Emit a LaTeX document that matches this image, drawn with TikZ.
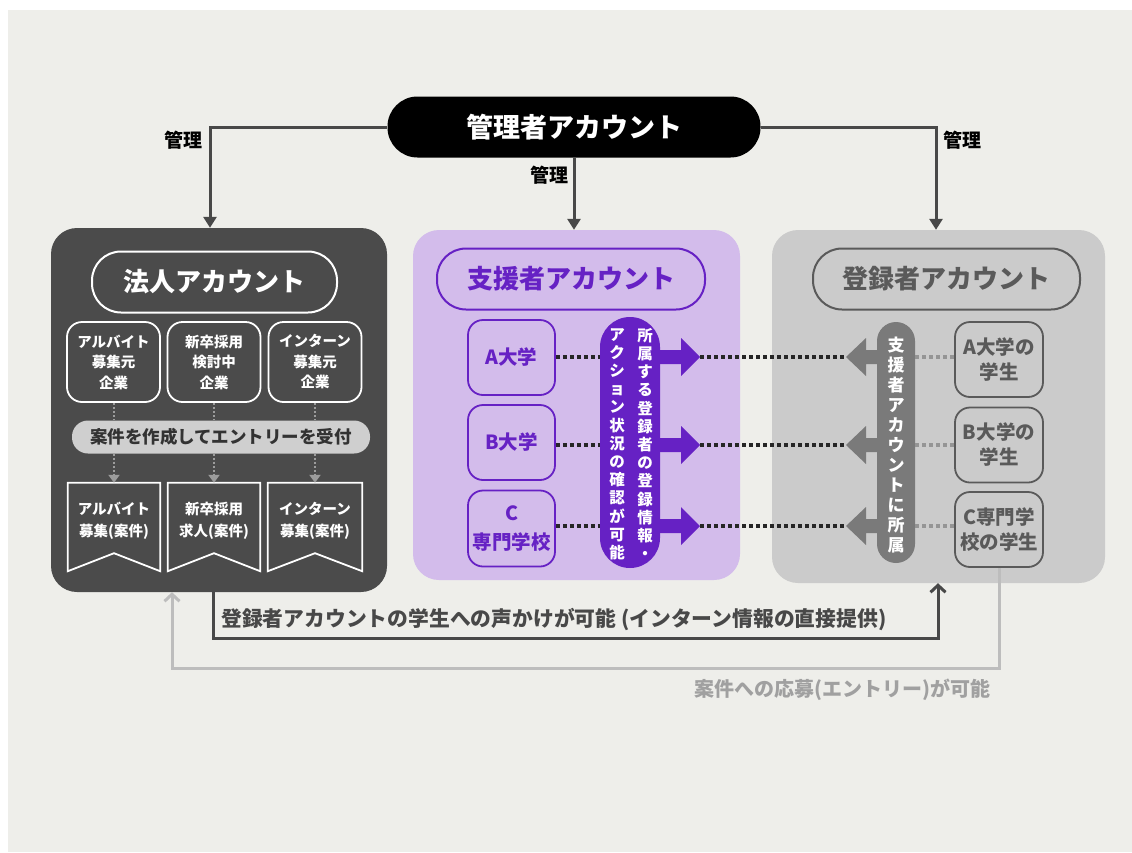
\documentclass[tikz,border=0pt]{standalone}
\usepackage{fontspec}
\setmainfont{Noto Sans CJK JP}
\usetikzlibrary{arrows.meta,calc}
\definecolor{bgc}{HTML}{EEEEEA}
\definecolor{darkbox}{HTML}{4B4B4B}
\definecolor{lineDark}{HTML}{484848}
\definecolor{purpbox}{HTML}{D3BCEB}
\definecolor{purp}{HTML}{6621C4}
\definecolor{greybox}{HTML}{CBCBCB}
\definecolor{greyline}{HTML}{5A5A5A}
\definecolor{greypill}{HTML}{7A7A7A}
\definecolor{lightpill}{HTML}{CFCFCF}
\definecolor{dotgrey}{HTML}{9C9C9C}
\definecolor{lightline}{HTML}{BDBDBD}
\definecolor{lightlabel}{HTML}{A0A0A0}
\begin{document}
\begin{tikzpicture}[x=1pt,y=-1pt,
  panel/.style={rounded corners=26pt, inner sep=0pt},
  titlepill/.style={draw, line width=2pt, rounded corners=29pt, inner sep=0pt, minimum height=61pt, font=\bfseries\fontsize{26}{30}\selectfont},
  sbox/.style={draw, line width=1.8pt, rounded corners=15pt, inner sep=0pt, align=center},
  mgarrow/.style={line width=3pt, draw=lineDark, line join=miter, -{Triangle[width=13pt,length=11pt]}},
  mglabel/.style={font=\bfseries\fontsize{19}{22}\selectfont, text=black},
  lbdot/.style={draw=dotgrey, line width=2pt, dash pattern=on 2pt off 2pt},
  bkdot/.style={draw=black!85, line width=4pt, dash pattern=on 4pt off 3pt},
  gydot/.style={draw=greypill!80, line width=3.5pt, dash pattern=on 4pt off 3pt},
  bannerbox/.style={minimum width=92pt, minimum height=88pt, inner sep=0pt},
  bantext/.style={text=white, align=center, inner sep=0pt, font=\bfseries\fontsize{14.5}{22}\selectfont},
  vtext/.style={text=white, align=center, inner sep=0pt},
  barb/.style={line width=3pt, line join=miter, -{Straight Barb[length=7pt,width=15pt]}},
]
\useasboundingbox (0,0) rectangle (1132,852);
\fill[white] (0,0) rectangle (1132,852);
\fill[bgc] (8,10) rectangle (1132,852);

% admin
\node[fill=black, rounded corners=30pt, minimum width=373pt, minimum height=61pt, inner sep=0pt, text=white, font=\bfseries\fontsize{27}{30}\selectfont] (admin) at (574,127) {管理者アカウント};

% panels
\node[panel, fill=darkbox, minimum width=336pt, minimum height=364pt] (hojin) at (219,410) {};
\node[panel, fill=purpbox, minimum width=327pt, minimum height=350pt] (shien) at (576.5,405) {};
\node[panel, fill=greybox, minimum width=333pt, minimum height=353pt] (toroku) at (938.5,406.5) {};

% titles
\node[titlepill, draw=white, text=white, minimum width=245pt] (hojinT) at (214.5,282) {法人アカウント};
\node[titlepill, draw=purp, text=purp, minimum width=268pt] (shienT) at (571,279) {支援者アカウント};
\node[titlepill, draw=greyline, text=greyline, minimum width=267pt] (torokuT) at (946.5,279) {登録者アカウント};

% left panel content
\begin{scope}[every node/.append style={font=\bfseries\fontsize{14.5}{20.5}\selectfont}]
\node[sbox, draw=white, text=white, minimum width=93pt, minimum height=80pt] (c1) at (113.5,362) {アルバイト\\募集元\\企業};
\node[sbox, draw=white, text=white, minimum width=93pt, minimum height=80pt] (c2) at (214,362) {新卒採用\\検討中\\企業};
\node[sbox, draw=white, text=white, minimum width=93pt, minimum height=80pt] (c3) at (315,362) {インターン\\募集元\\企業};
\end{scope}
\node[fill=lightpill, rounded corners=16pt, minimum width=298pt, minimum height=33pt, inner sep=0pt, text=black!80, font=\bfseries\fontsize{17.5}{20}\selectfont] (entry) at (221,437) {案件を作成してエントリーを受付};

\node[bannerbox] (b1) at (114,527) {};
\node[bannerbox] (b2) at (214,527) {};
\node[bannerbox, minimum width=94pt] (b3) at (315,527) {};
\foreach \b in {b1,b2,b3}
  \draw[white, line width=1.8pt, line join=miter] (\b.north west) -- (\b.north east) -- (\b.south east) -- ($(\b.south)+(0,-18)$) -- (\b.south west) -- cycle;
\node[bantext] (b1t) at (114,521) {アルバイト\\募集(案件)};
\node[bantext] (b2t) at (214,521) {新卒採用\\求人(案件)};
\node[bantext] (b3t) at (315,521) {インターン\\募集(案件)};

\foreach \i in {1,2,3} {
  \draw[lbdot] (c\i.south) -- (c\i.south |- entry.north);
  \draw[lbdot, -{Triangle[width=11pt,length=8pt]}] (b\i.north |- entry.south) -- (b\i.north);
}

% middle panel content
\begin{scope}[every node/.append style={font=\bfseries\fontsize{19.5}{29}\selectfont}]
\node[sbox, draw=purp, text=purp, minimum width=87pt, minimum height=75pt] (mA) at (511.5,357.5) {A大学};
\node[sbox, draw=purp, text=purp, minimum width=87pt, minimum height=75pt] (mB) at (511.5,442.5) {B大学};
\node[sbox, draw=purp, text=purp, minimum width=87pt, minimum height=76pt] (mC) at (511.5,528.5) {C\\専門学校};
\end{scope}

\coordinate (r1) at (0,357);
\coordinate (r2) at (0,445);
\coordinate (r3) at (0,526);

\foreach \y [count=\i] in {357,445,526} {
  \fill[purp] (650,\y-7) -- (681,\y-7) -- (681,\y-19) -- (700,\y) -- (681,\y+19) -- (681,\y+7) -- (650,\y+7) -- cycle;
  \coordinate (pt\i) at (700,\y);
  \fill[greypill] (885,\y-7) -- (866,\y-7) -- (866,\y-19) -- (846,\y) -- (866,\y+19) -- (866,\y+7) -- (885,\y+7) -- cycle;
  \coordinate (gt\i) at (846,\y);
}

\node[fill=purp, rounded corners=30pt, minimum width=60pt, minimum height=251pt, inner sep=0pt] (ppill) at (630,442.5) {};
\node[vtext, font=\bfseries\fontsize{15.5}{18.2}\selectfont] (pv1) at (645,444) {所\\属\\す\\る\\登\\録\\者\\の\\登\\録\\情\\報\\・};
\node[vtext, font=\bfseries\fontsize{15.5}{18.2}\selectfont] (pv2) at (617,444) {ア\\ク\\シ\\ョ\\ン\\状\\況\\の\\確\\認\\が\\可\\能};

% right panel content
\node[fill=greypill, rounded corners=19pt, minimum width=38pt, minimum height=241pt, inner sep=0pt] (gpill) at (896,442.5) {};
\node[vtext, font=\bfseries\fontsize{17}{20}\selectfont] (gv) at (896,445) {支\\援\\者\\ア\\カ\\ウ\\ン\\ト\\に\\所\\属};

\begin{scope}[every node/.append style={font=\bfseries\fontsize{19.5}{25}\selectfont}]
\node[sbox, draw=greyline, text=greyline, minimum width=88pt, minimum height=75pt] (rA) at (999,359.5) {A大学の\\学生};
\node[sbox, draw=greyline, text=greyline, minimum width=88pt, minimum height=75pt] (rB) at (999,445) {B大学の\\学生};
\node[sbox, draw=greyline, text=greyline, minimum width=88pt, minimum height=75pt] (rC) at (999,529.5) {C専門学\\校の学生};
\end{scope}

% dotted row connectors
\foreach \m/\r/\i in {mA/rA/1,mB/rB/2,mC/rC/3} {
  \draw[bkdot] (\m.east |- r\i) -- (ppill.west |- r\i);
  \draw[bkdot] (pt\i) -- (gt\i);
  \draw[gydot] (gpill.east |- r\i) -- (\r.west |- r\i);
}

% top management arrows
\coordinate (tl) at (210,127);
\coordinate (tr) at (936,127);
\draw[mgarrow] (admin.west) -- (tl) -- (tl |- hojin.north);
\draw[mgarrow] (admin.south) -- (admin.south |- shien.north);
\draw[mgarrow] (admin.east) -- (tr) -- (tr |- toroku.north);
\node[mglabel] (mg1) at (183,140) {管理};
\node[mglabel] (mg2) at (549,175) {管理};
\node[mglabel] (mg3) at (962,140) {管理};

% bottom connectors
\coordinate (l1) at (172,668);
\draw[barb, draw=lightline] (rC.south) |- (l1) -- (l1 |- hojin.south);
\node[anchor=east, inner sep=0pt, font=\bfseries\fontsize{20}{24}\selectfont, text=lightlabel] (llab) at (991,690) {案件への応募(エントリー)が可能};

\coordinate (d1) at (213,638);
\coordinate (d2) at (938,638);
\draw[barb, draw=lineDark] (d1 |- hojin.south) -- (d1) -- (d2) -- (d2 |- toroku.south);
\node[anchor=west, inner sep=0pt, font=\bfseries\fontsize{20.8}{24}\selectfont, text=lineDark] (dlab) at (221,620) {登録者アカウントの学生への声かけが可能 (インターン情報の直接提供)};
\end{tikzpicture}
\end{document}
